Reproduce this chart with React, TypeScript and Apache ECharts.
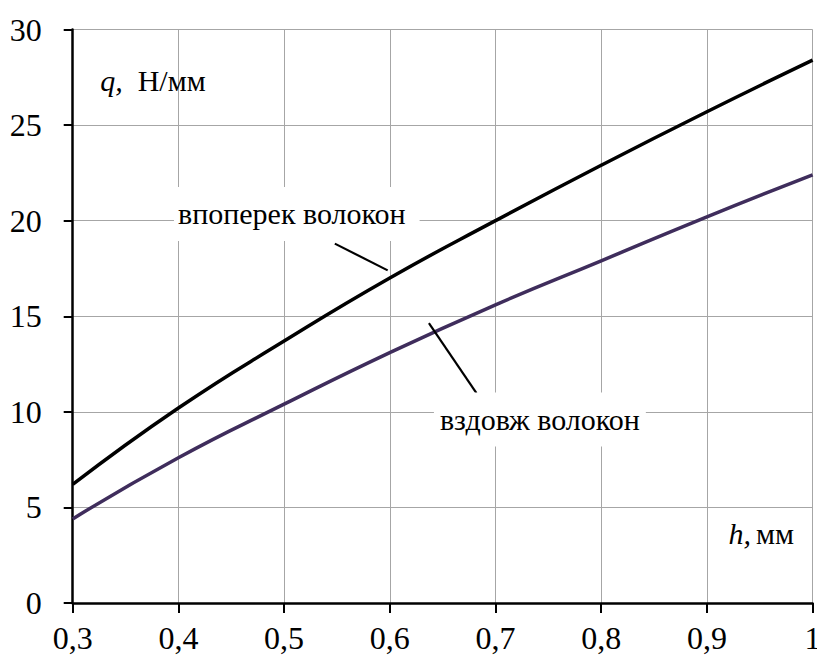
import React, { useEffect, useRef } from "react";
import * as echarts from "echarts";

const hValues = [0.3, 0.4, 0.5, 0.6, 0.7, 0.8, 0.9, 1.0];
const acrossFibers = [6.2, 10.2, 13.7, 17.0, 20.0, 22.9, 25.7, 28.4];
const alongFibers = [4.4, 7.6, 10.4, 13.1, 15.6, 17.9, 20.2, 22.4];
const acrossLabel = "впоперек волокон";
const alongLabel = "вздовж волокон";
const yAxisName = "q,";
const yAxisUnit = "Н/мм";
const xAxisName = "h,";
const xAxisUnit = "мм";

// annotation anchors in data coordinates
const acrossLabelPos = [0.512, 20.35];
const acrossLeader = [[0.548, 18.8], [0.598, 17.4]];
const alongLabelPos = [0.742, 9.6];
const alongLeader = [[0.637, 14.64], [0.682, 10.98]];
const yNamePos = [0.3255, 27.35];
const yUnitPos = [0.361, 27.35];
const xNamePos = [0.92, 3.66];
const xUnitPos = [0.946, 3.66];

const FONT = "serif";

export default function App() {
  const ref = useRef<HTMLDivElement>(null);
  useEffect(() => {
    const chart = echarts.init(ref.current!, null, { renderer: "svg" });
    const fmt = (v: number) => String(Math.round(v * 10) / 10).replace(".", ",");
    const textPoint = (coord: number[], text: string, opts: any) => ({
      coord,
      symbol: "rect",
      symbolSize: 1,
      itemStyle: { color: "rgba(0,0,0,0)" },
      label: {
        show: true,
        formatter: text,
        color: "#000",
        fontFamily: FONT,
        fontSize: 30,
        ...opts,
      },
    });
    chart.setOption({
      animation: false,
      textStyle: { fontFamily: FONT },
      grid: { left: 72.7, right: 4.4, top: 29.5, bottom: 61, outerBoundsMode: "none" },
      xAxis: {
        type: "value",
        min: 0.3,
        max: 1,
        interval: 0.1,
        axisLine: { show: true, onZero: false, lineStyle: { color: "#000", width: 2.5 } },
        axisTick: { show: true, length: 10, lineStyle: { color: "#000", width: 2 } },
        axisLabel: { color: "#000", fontFamily: FONT, fontSize: 32, margin: 19, formatter: fmt, showMaxLabel: true },
        splitLine: { show: true, lineStyle: { color: "#a6a6a6", width: 1 } },
      },
      yAxis: {
        type: "value",
        min: 0,
        max: 30,
        interval: 5,
        axisLine: { show: true, lineStyle: { color: "#000", width: 2.5 } },
        axisTick: { show: true, length: 9, lineStyle: { color: "#000", width: 2 } },
        axisLabel: { color: "#000", fontFamily: FONT, fontSize: 32, margin: 31 },
        splitLine: { show: true, lineStyle: { color: "#a6a6a6", width: 1 } },
      },
      series: [
        {
          type: "line",
          data: hValues.map((h, i) => [h, acrossFibers[i]]),
          smooth: true,
          showSymbol: false,
          lineStyle: { color: "#000000", width: 3.5 },
          z: 3,
          markLine: {
            silent: true,
            symbol: "none",
            label: { show: false },
            lineStyle: { color: "#000", width: 2.2, type: "solid" },
            data: [[{ coord: acrossLeader[0] }, { coord: acrossLeader[1] }]],
          },
          markPoint: {
            silent: true,
            z: 10,
            data: [
              textPoint(acrossLabelPos, acrossLabel, {
                position: "inside",
                backgroundColor: "#fff",
                padding: [12, 14, 12, 4],
              }),
              textPoint(yNamePos, yAxisName, { position: "right", distance: 0, fontStyle: "italic" }),
              textPoint(yUnitPos, yAxisUnit, { position: "right", distance: 0 }),
            ],
          },
        },
        {
          type: "line",
          data: hValues.map((h, i) => [h, alongFibers[i]]),
          smooth: true,
          showSymbol: false,
          lineStyle: { color: "#3f2d5c", width: 3.5 },
          z: 3,
          markLine: {
            silent: true,
            symbol: "none",
            label: { show: false },
            lineStyle: { color: "#000", width: 2.2, type: "solid" },
            data: [[{ coord: alongLeader[0] }, { coord: alongLeader[1] }]],
          },
          markPoint: {
            silent: true,
            z: 10,
            data: [
              textPoint(alongLabelPos, alongLabel, {
                position: "inside",
                backgroundColor: "#fff",
                padding: [12, 6, 12, 6],
              }),
              textPoint(xNamePos, xAxisName, { position: "right", distance: 0, fontStyle: "italic" }),
              textPoint(xUnitPos, xAxisUnit, { position: "right", distance: 0 }),
            ],
          },
        },
      ],
    });
    return () => chart.dispose();
  }, []);
  return (
    <div
      ref={ref}
      style={{ position: "fixed", left: 0, top: 0, width: 817, height: 664, background: "#fff" }}
    />
  );
}
